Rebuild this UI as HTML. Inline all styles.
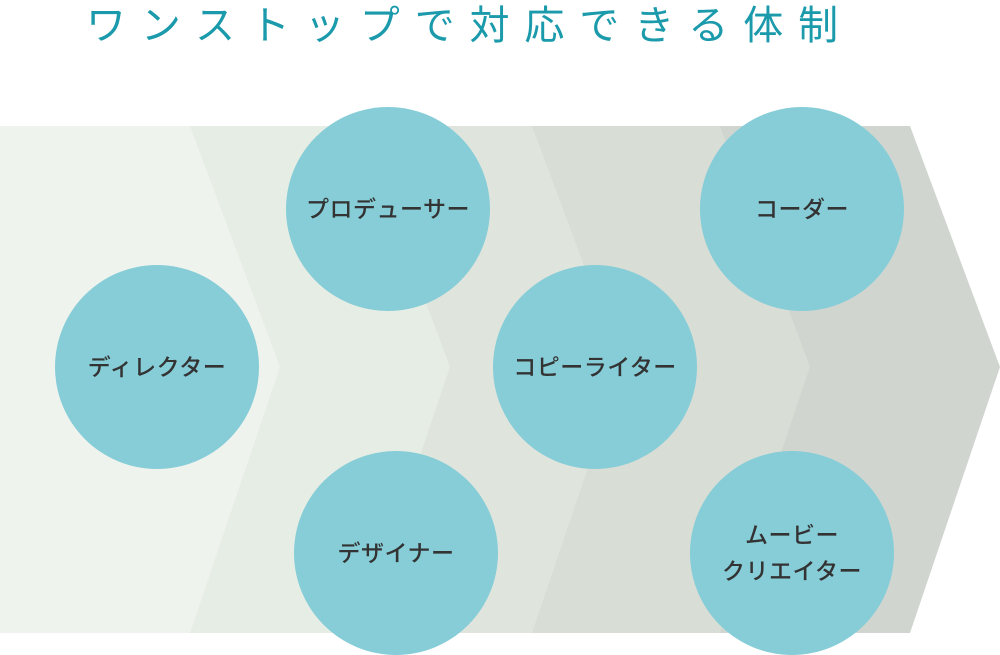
<!DOCTYPE html>
<html><head><meta charset="utf-8"><style>
body{margin:0;width:1000px;height:654px;background:#fff;overflow:hidden;position:relative;font-family:"Liberation Sans","Noto Sans CJK JP",sans-serif}
.t{position:absolute;left:86px;top:0px;font-size:40px;color:#1a9aab;letter-spacing:14.9px;white-space:nowrap;line-height:52px}
.c{position:absolute;width:204px;height:204px;border-radius:50%;background:#86cdd8;display:flex;align-items:center;justify-content:center;text-align:center;font-size:23px;font-weight:500;color:#333;line-height:36px;letter-spacing:0.5px}
</style></head><body>
<div class="t">ワンストップで対応できる体制</div>
<svg width="1000" height="654" style="position:absolute;left:0;top:0">
<polygon points="0,126 910,126 1000,367 910,633 0,633" fill="#d0d5cf"/>
<polygon points="0,126 720,126 810,367 720,633 0,633" fill="#d8ddd5"/>
<polygon points="0,126 532,126 622,367 532,633 0,633" fill="#dfe5dd"/>
<polygon points="0,126 360,126 450,367 360,633 0,633" fill="#e6ede4"/>
<polygon points="0,126 190,126 280,367 190,633 0,633" fill="#eff3ed"/>
</svg>
<div class="c" style="left:55px;top:265px">ディレクター</div>
<div class="c" style="left:286px;top:107px">プロデューサー</div>
<div class="c" style="left:294px;top:451px">デザイナー</div>
<div class="c" style="left:493px;top:265px">コピーライター</div>
<div class="c" style="left:700px;top:107px">コーダー</div>
<div class="c" style="left:690px;top:451px">ムービー<br>クリエイター</div>
</body></html>
